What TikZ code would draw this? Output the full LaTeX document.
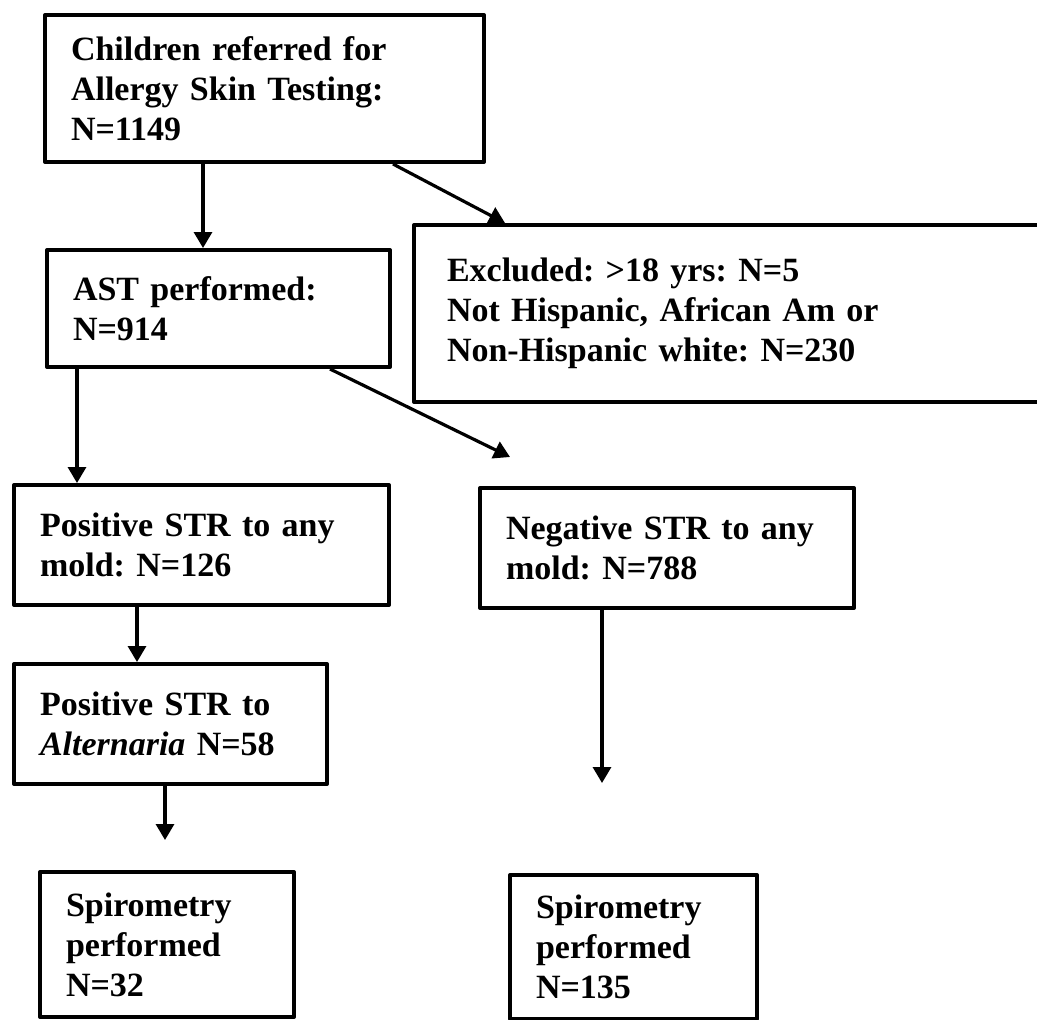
\documentclass[tikz,border=0pt]{standalone}
\usepackage{fontspec}
\setmainfont{Liberation Serif}
\usepackage{tikz}
\usetikzlibrary{calc,arrows.meta}
\frenchspacing

\begin{document}
\begin{tikzpicture}[x=0.5pt, y=-0.5pt, line join=round,
	box/.style={draw, line width=2pt, anchor=north west, align=left,
		inner xsep=13pt, inner ysep=0pt, font=\bfseries\fontsize{17}{20}\selectfont},
	arr/.style={line width=1.6pt, -{Triangle[length=8pt,width=9pt]}}]
	
	% --- 1. frame (pixel units of the scan) ---
	\useasboundingbox (0,0) rectangle (1037,1019);
	
	% --- 2. boxes ---
	\node[box, text width=193.5pt, minimum height=73.5pt] (kids) at (43,13)
		{Children referred for\\Allergy Skin Testing:\\N=1149};
	\node[box, text width=145.5pt, minimum height=58.5pt] (ast) at (45,248)
		{AST performed:\\N=914};
	% the exclusion box runs off the right edge
	\node[box, inner xsep=16.5pt, text width=291pt, minimum height=88.5pt] (excl) at (412,223)
		{Excluded: >18 yrs: N=5\\Not Hispanic, African Am or\\Non-Hispanic white: N=230};
	\node[box, text width=161.5pt, minimum height=60pt] (pos) at (12,483)
		{Positive STR to any\\mold: N=126};
	\node[box, text width=161pt, minimum height=60pt] (neg) at (478,486)
		{Negative STR to any\\mold: N=788};
	\node[box, text width=130.5pt, minimum height=60pt] (alt) at (12,662)
		{Positive STR to\\\textit{Alternaria} N=58};
	\node[box, text width=101pt, minimum height=72.5pt] (spiroA) at (38,870)
		{Spirometry\\performed\\N=32};
	\node[box, text width=97.5pt, minimum height=72pt] (spiroB) at (508,873)
		{Spirometry\\performed\\N=135};
	
	% --- 3. free arrow ends ---
	\coordinate (negin) at (510,457);
	\coordinate (altout) at (165,840);
	\coordinate (negout) at (602,783);
	
	% --- 4. arrows ---
	\draw[arr] ($(kids.south west)+(160,0)$) -- ($(ast.north west)+(158,0)$);
	\draw[arr] ($(kids.south west)+(350,0)$) -- ($(excl.north west)+(93,0)$);
	\draw[arr] ($(ast.south west)+(32,0)$) -- ($(pos.north west)+(65,0)$);
	\draw[arr] ($(ast.south west)+(285,0)$) -- (negin);
	\draw[arr] ($(pos.south west)+(125,0)$) -- ($(alt.north west)+(125,0)$);
	\draw[arr] ($(alt.south west)+(153,0)$) -- (altout);
	\draw[arr] ($(neg.south west)+(124,0)$) -- (negout);
	
\end{tikzpicture}
\end{document}
